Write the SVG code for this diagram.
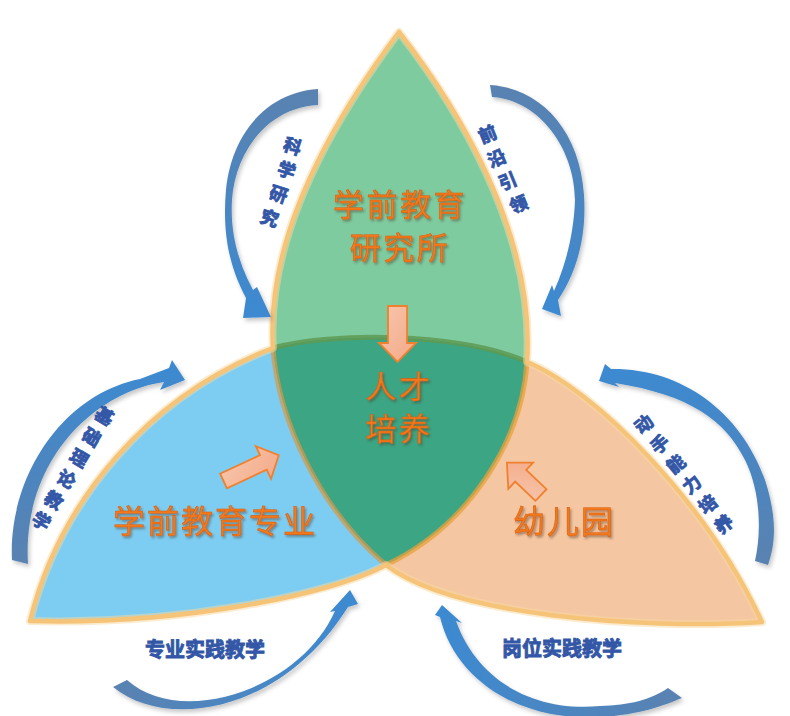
<svg xmlns="http://www.w3.org/2000/svg" width="790" height="716" viewBox="0 0 790 716">
<defs>
<style>
.big{font-family:"Noto Sans CJK SC","Noto Sans",sans-serif;font-size:31px;fill:#F2791C;stroke:#D86010;stroke-width:0.6;text-anchor:middle;letter-spacing:2.5px;filter:url(#ts)}
.lbl{font-family:"Noto Sans CJK SC","Noto Sans",sans-serif;font-size:18px;font-weight:bold;fill:#3357A6;stroke:#3357A6;stroke-width:0.9;text-anchor:middle;dominant-baseline:central}
.hl{font-family:"Noto Sans CJK SC","Noto Sans",sans-serif;font-size:20px;font-weight:bold;fill:#3357A6;stroke:#3357A6;stroke-width:0.9;text-anchor:middle}
.blk{fill:url(#gPeach);stroke:#F0802E;stroke-width:1.8;stroke-linejoin:miter}
.inner{fill:none;stroke-width:5;stroke-linecap:round}
</style>
<filter id="ts" x="-20%" y="-30%" width="140%" height="160%"><feDropShadow dx="1.5" dy="2" stdDeviation="1.2" flood-color="#4a3020" flood-opacity="0.45"/></filter>
<filter id="as" x="-20%" y="-20%" width="140%" height="140%"><feDropShadow dx="2" dy="3" stdDeviation="2" flood-color="#000" flood-opacity="0.22"/></filter>
<linearGradient id="gPeach" x1="0" y1="0" x2="1" y2="1"><stop offset="0" stop-color="#F7C7AE"/><stop offset="1" stop-color="#F3A885"/></linearGradient>
<linearGradient id="gTD" x1="0" y1="0" x2="0" y2="1"><stop offset="0" stop-color="#5A82B0"/><stop offset="1" stop-color="#3C8AD2"/></linearGradient>
<linearGradient id="gBU" x1="0" y1="1" x2="0" y2="0"><stop offset="0" stop-color="#5A82B0"/><stop offset="1" stop-color="#3C8AD2"/></linearGradient>
<linearGradient id="gLR" x1="0" y1="0" x2="1" y2="0"><stop offset="0" stop-color="#5A82B0"/><stop offset="1" stop-color="#3C8AD2"/></linearGradient>
<linearGradient id="gRL" x1="1" y1="0" x2="0" y2="0"><stop offset="0" stop-color="#5A82B0"/><stop offset="1" stop-color="#3C8AD2"/></linearGradient>
</defs>
<rect width="790" height="716" fill="#FFFFFF"/>

<g id="node-major">
<path d="M30,621 C60,500 150,395 273,348 C278,420 320,510 386,565 C330,595 180,625 30,621 Z" fill="#7DCDF2"/>
<text class="big" x="215" y="533" style="font-size:32px;letter-spacing:2px">学前教育专业</text>
</g>
<g id="node-kindergarten">
<path d="M527,362 C595,390 705,500 762,622 C640,630 450,615 386,565 C470,525 522,440 527,362 Z" fill="#F5C6A2"/>
<text class="big" x="564" y="533" style="font-size:32px;letter-spacing:2px">幼儿园</text>
</g>
<g id="node-institute">
<path d="M399,32 C348,100 265,225 273,348 C330,332 460,332 527,362 C536,230 452,100 399,32 Z" fill="#7ECBA0"/>
</g>
<g id="node-center">
<path d="M273,348 C330,332 460,332 527,362 C522,440 470,525 386,565 C320,510 278,420 273,348 Z" fill="#3CA583"/>
</g>

<g id="outlines">
<path class="inner" d="M273,348 C330,332 460,332 527,362" stroke="#5E9A52" stroke-opacity="0.85"/>
<path class="inner" d="M273,348 C278,420 320,510 386,565" stroke="#D49A48" stroke-opacity="0.7"/>
<path class="inner" d="M527,362 C522,440 470,525 386,565" stroke="#E8A03A" stroke-opacity="0.75"/>
<path d="M399,32 C348,100 265,225 273,348 C150,395 60,500 30,621 C180,625 330,595 386,565 C450,615 640,630 762,622 C705,500 595,390 527,362 C536,230 452,100 399,32 Z" fill="none" stroke="#F8D9A2" stroke-width="8" stroke-opacity="0.5" stroke-linejoin="round"/>
<path d="M399,32 C348,100 265,225 273,348 C150,395 60,500 30,621 C180,625 330,595 386,565 C450,615 640,630 762,622 C705,500 595,390 527,362 C536,230 452,100 399,32 Z" fill="none" stroke="#F6C479" stroke-width="4.5" stroke-linejoin="round"/>
</g>

<g id="node-institute-label">
<text class="big" x="400" y="216">学前教育</text>
<text class="big" x="400" y="259">研究所</text>
</g>
<g id="node-center-label">
<text class="big" x="399" y="398">人才</text>
<text class="big" x="399" y="440">培养</text>
</g>

<g id="connectors">
<polygon class="blk" points="388,306 407,306 407,343 416,343 397.5,362 379,343 388,343"/>
<polygon class="blk" points="0,-8 44,-8 44,-18 61,0 44,18 44,8 0,8" transform="translate(223.5,481) rotate(-25)"/>
<polygon class="blk" points="0,-8 28,-8 28,-18 47,0 28,18 28,8 0,8" transform="translate(541,495) rotate(-136.5)"/>

<g filter="url(#as)">
<path d="M318,89 C270,92 232,130 226,190 C222,235 230,268 246,298 L243,318 L271,317 L257,287 L253,290 C238,262 230,232 232,200 C235,155 265,108 318,105 Z" fill="url(#gTD)"/>
<path d="M490,85 C540,88 580,130 584,195 C587,240 575,275 558,300 L561,316 L542,309 L552,285 L554,291 C566,265 574,232 575,200 C575,150 540,100 492,97 Z" fill="url(#gTD)"/>
<path d="M12,560 C8,480 60,395 140,379 L169,368 L172,360 L185,380 L160,390 L164,382 C95,392 22,460 28,564 Z" fill="url(#gBU)"/>
<path d="M599,381 L605,364 L611,369 C680,368 740,410 765,480 C778,520 775,545 768,565 L755,561 C762,530 760,490 745,460 C725,420 690,395 615,383 L619,387 Z" fill="url(#gBU)"/>
<path d="M113,687 C165,730 280,715 348,607 L358,604 L350,590 L330,612 L335,611 C300,690 180,728 127,680 Z" fill="url(#gLR)"/>
<path d="M440,617 C455,680 520,722 600,717 C640,715 665,705 682,698 L668,688 C650,700 630,705 600,706 C535,712 478,682 456,621 L462,623 L442,605 L435,615 Z" fill="url(#gRL)"/>
</g>

<g id="label-research">
<text class="lbl" x="293" y="145" transform="rotate(18 293 145)">科</text>
<text class="lbl" x="287" y="169" transform="rotate(18 287 169)">学</text>
<text class="lbl" x="279" y="193" transform="rotate(18 279 193)">研</text>
<text class="lbl" x="270" y="217" transform="rotate(18 270 217)">究</text>
</g>
<g id="label-lead">
<text class="lbl" x="487" y="133" transform="rotate(-22 487 133)">前</text>
<text class="lbl" x="496" y="157" transform="rotate(-22 496 157)">沿</text>
<text class="lbl" x="507" y="180" transform="rotate(-22 507 180)">引</text>
<text class="lbl" x="518" y="203" transform="rotate(-22 518 203)">领</text>
</g>
<g id="label-theory">
<text class="lbl" x="105" y="415" transform="rotate(31 105 415)">基</text>
<text class="lbl" x="92.4" y="436" transform="rotate(31 92.4 436)">础</text>
<text class="lbl" x="79.8" y="457" transform="rotate(31 79.8 457)">理</text>
<text class="lbl" x="67.2" y="478" transform="rotate(31 67.2 478)">论</text>
<text class="lbl" x="54.6" y="499" transform="rotate(31 54.6 499)">教</text>
<text class="lbl" x="42" y="520" transform="rotate(31 42 520)">学</text>
</g>
<g id="label-hands">
<text class="lbl" x="643" y="423" transform="rotate(-39 643 423)">动</text>
<text class="lbl" x="659" y="443" transform="rotate(-39 659 443)">手</text>
<text class="lbl" x="675" y="463" transform="rotate(-39 675 463)">能</text>
<text class="lbl" x="691" y="483" transform="rotate(-39 691 483)">力</text>
<text class="lbl" x="707" y="503" transform="rotate(-39 707 503)">培</text>
<text class="lbl" x="723" y="523" transform="rotate(-39 723 523)">养</text>
</g>
<text class="hl" x="205" y="657">专业实践教学</text>
<text class="hl" x="562" y="656">岗位实践教学</text>
</g>
</svg>
